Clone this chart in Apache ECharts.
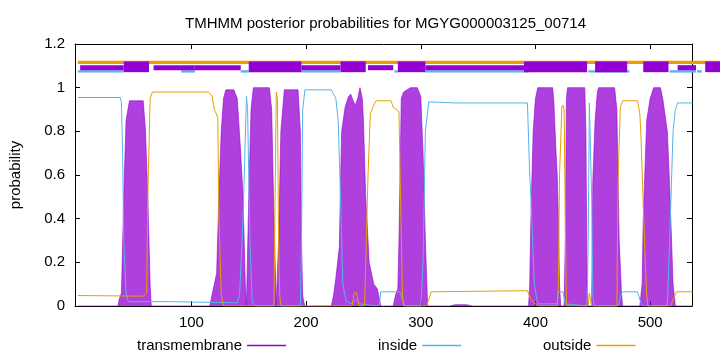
<!DOCTYPE html>
<html>
<head>
<meta charset="utf-8">
<script src="https://cdn.jsdelivr.net/npm/echarts@6/dist/echarts.min.js"></script>
<style>
  html, body { margin: 0; padding: 0; background: #fff; }
  #chart { width: 720px; height: 352px; }
</style>
</head>
<body>
<div id="chart"></div>
<script>
// posterior probabilities, [residue, probability]
const transmembrane = [
  [1, 0], [36, 0], [37, 0.03], [39, 0.06], [41, 0.5], [43, 0.85], [46, 0.94], [58, 0.94], [60, 0.8], [62, 0.5], [64, 0.1], [65, 0],
  [116, 0], [118, 0.05], [120, 0.1], [122, 0.15], [124, 0.5], [126, 0.8], [128, 0.95], [130, 0.99], [137, 0.99], [140, 0.95], [143, 0.7], [145, 0.5], [147, 0.1], [148, 0],
  [149, 0], [150, 0.5], [152, 0.9], [154, 1.0], [168, 1.0], [170, 0.9], [172, 0.4], [174, 0],
  [175, 0], [176, 0.3], [178, 0.8], [181, 0.99], [193, 0.99], [195, 0.8], [196, 0.3], [197, 0.05], [198, 0.02], [199, 0],
  [222, 0], [224, 0.05], [226, 0.13], [229, 0.27], [230, 0.55], [231, 0.8], [234, 0.91], [237, 0.96], [239, 0.97], [241, 0.94], [243, 0.92], [245, 0.95], [247, 1.0], [249, 0.95], [250, 0.85], [252, 0.5], [255, 0.2], [259, 0.1], [262, 0.08], [264, 0.03], [265, 0],
  [276, 0], [278, 0.05], [280, 0.08], [281, 0.3], [283, 0.95], [285, 0.98], [291, 1.0], [297, 1.0], [300, 0.96], [302, 0.7], [304, 0.3], [306, 0],
  [325, 0], [330, 0.006], [340, 0.006], [345, 0],
  [394, 0], [395, 0.1], [396, 0.4], [398, 0.8], [400, 0.95], [402, 1.0], [415, 1.0], [416, 0.94], [418, 0.7], [419, 0.6], [420, 0.4], [421, 0.1], [422, 0],
  [425, 0], [426, 0.3], [427, 0.95], [428, 1.0], [443, 1.0], [444, 0.8], [445, 0.1], [446, 0],
  [449, 0], [450, 0.57], [452, 0.85], [454, 0.98], [455, 1.0], [469, 1.0], [471, 0.9], [472, 0.6], [473, 0.3], [475, 0.06], [476, 0],
  [491, 0], [493, 0.1], [494, 0.4], [497, 0.85], [500, 0.95], [503, 1.0], [509, 1.0], [511, 0.95], [515, 0.8], [517, 0.55], [520, 0.1], [522, 0], [537, 0]
];

const inside = [
  [1, 0.955], [38, 0.955], [39, 0.93], [40, 0.7], [41, 0.3], [43, 0.06], [45, 0.02], [80, 0.02], [100, 0.018], [140, 0.015],
  [142, 0.05], [145, 0.4], [148, 0.96], [149, 0.9], [151, 0.3], [153, 0.02], [155, 0], [195, 0],
  [196, 0.3], [197, 0.9], [199, 0.99], [222, 0.99], [226, 0.95], [228, 0.85], [230, 0.5], [232, 0.1], [235, 0.02], [240, 0.01], [244, 0.03], [247, 0.01], [260, 0],
  [264, 0.005], [265, 0.065], [282, 0.065], [284, 0.03], [286, 0], [300, 0],
  [302, 0.2], [304, 0.8], [307, 0.935], [330, 0.93], [393, 0.93], [395, 0.6], [396, 0.5], [399, 0.1], [402, 0.01], [419, 0.01],
  [420, 0.065], [424, 0.065], [426, 0.01], [445, 0], [446, 0.3], [447, 0.93], [448, 0.93], [449, 0.5], [450, 0.05], [451, 0],
  [472, 0], [475, 0.06], [477, 0.065], [489, 0.065], [491, 0.03], [493, 0], [515, 0],
  [517, 0.3], [520, 0.8], [522, 0.9], [524, 0.93], [537, 0.93]
];

const outside = [
  [1, 0.048], [58, 0.045], [61, 0.06], [62, 0.5], [64, 0.95], [66, 0.98], [115, 0.98], [118, 0.96], [120, 0.9], [121, 0.89], [123, 0.86], [124, 0.4], [126, 0.05], [128, 0],
  [172, 0], [173, 0.5], [174, 0.98], [175, 0.95], [176, 0.3], [177, 0.05], [178, 0],
  [240, 0], [242, 0.06], [244, 0.06], [246, 0], [251, 0],
  [252, 0.2], [254, 0.6], [256, 0.88], [259, 0.92], [261, 0.94], [274, 0.94], [276, 0.91], [281, 0.89], [282, 0.6], [284, 0.05], [285, 0],
  [305, 0], [307, 0.03], [309, 0.065], [393, 0.07], [396, 0.03], [402, 0], [419, 0],
  [420, 0.1], [421, 0.6], [423, 0.91], [424, 0.92], [425, 0.9], [426, 0.4], [427, 0], [446, 0], [447, 0.06], [448, 0.06], [449, 0],
  [471, 0], [472, 0.57], [474, 0.91], [476, 0.94], [489, 0.94], [491, 0.88], [492, 0.78], [494, 0.46], [496, 0.17], [497, 0.05], [498, 0],
  [518, 0], [520, 0.03], [523, 0.065], [537, 0.065]
];

// predicted topology strip at the top, [start, end] residues
const topOutside = [[1, 561]];
const topInside = [[1, 41], [91, 103], [143, 150], [196, 230], [277, 280], [304, 394], [446, 482], [517, 540], [541, 545]];
const topTmWide = [[41, 63], [150, 196], [230, 252], [280, 304], [390, 445], [452, 480], [494, 516], [548, 561]];
const topTmNarrow = [[3, 41], [67, 103], [103, 143], [196, 230], [254, 276], [304, 390], [524, 540]];

const xTicks = [100, 200, 300, 400, 500];

const FONT = 'Liberation Sans, Arial, sans-serif';
const C_TM = '#9400D3';
const C_IN = '#56B4E9';
const C_OUT = '#E69F00';

function band(y0, y1, color) {
  return function (params, api) {
    const a = api.coord([api.value(0), y1]);
    const b = api.coord([api.value(1), y0]);
    return {
      type: 'rect',
      shape: { x: a[0], y: a[1], width: b[0] - a[0], height: b[1] - a[1] },
      style: { fill: color }
    };
  };
}

function legendItem(name, color) {
  return {
    name: name,
    icon: 'rect',
    itemStyle: { color: color, borderWidth: 0 },
    lineStyle: { width: 0 }
  };
}

const chart = echarts.init(document.getElementById('chart'), null, { renderer: 'canvas' });

const baseX = {
  type: 'value',
  min: -1.5,
  max: 536.5,
  splitLine: { show: false },
  axisLine: { onZero: false, lineStyle: { color: '#000', width: 1 } },
  axisTick: { inside: true, length: 5, customValues: xTicks, lineStyle: { color: '#000' } }
};
const baseY = {
  type: 'value',
  min: 0,
  max: 1.2,
  interval: 0.2,
  splitLine: { show: false },
  axisLine: { onZero: false, lineStyle: { color: '#000', width: 1 } },
  axisTick: { inside: true, length: 5, lineStyle: { color: '#000' } }
};

const legendBase = {
  orient: 'horizontal',
  top: 333,
  align: 'right',
  itemWidth: 39,
  itemHeight: 1.5,
  selectedMode: false,
  textStyle: { fontFamily: FONT, fontSize: 15, color: '#000' }
};

chart.setOption({
  animation: false,
  backgroundColor: '#fff',
  title: {
    text: 'TMHMM posterior probabilities for MGYG000003125_00714',
    left: 180,
    top: 11,
    textStyle: { fontFamily: FONT, fontSize: 15, fontWeight: 'normal', color: '#000' }
  },
  legend: [
    Object.assign({}, legendBase, { left: 132, data: [legendItem('transmembrane', C_TM)] }),
    Object.assign({}, legendBase, { left: 373, data: [legendItem('inside', C_IN)] }),
    Object.assign({}, legendBase, { left: 538, data: [legendItem('outside', C_OUT)] })
  ],
  grid: { left: 73, right: 28, top: 44, bottom: 46 },
  xAxis: [
    Object.assign({}, baseX, {
      position: 'bottom',
      axisLabel: { customValues: xTicks, fontFamily: FONT, fontSize: 15, color: '#000', margin: 9 }
    }),
    Object.assign({}, baseX, { position: 'top', axisLabel: { show: false } })
  ],
  yAxis: [
    Object.assign({}, baseY, {
      position: 'left',
      name: 'probability',
      nameLocation: 'middle',
      nameGap: 52,
      nameTextStyle: { fontFamily: FONT, fontSize: 15, color: '#000' },
      axisLabel: { fontFamily: FONT, fontSize: 15, color: '#000', margin: 10 }
    }),
    Object.assign({}, baseY, { position: 'right', axisLabel: { show: false } })
  ],
  series: [
    {
      name: 'transmembrane',
      type: 'line',
      color: C_TM,
      data: transmembrane,
      showSymbol: false,
      itemStyle: { color: C_TM },
      lineStyle: { color: C_TM, width: 1, opacity: 0.6 },
      areaStyle: { color: C_TM, opacity: 0.75 },
      z: 2
    },
    {
      name: 'inside',
      type: 'line',
      color: C_IN,
      data: inside,
      showSymbol: false,
      itemStyle: { color: C_IN },
      lineStyle: { color: C_IN, width: 1 },
      z: 3
    },
    {
      name: 'outside',
      type: 'line',
      color: C_OUT,
      data: outside,
      showSymbol: false,
      itemStyle: { color: C_OUT },
      lineStyle: { color: C_OUT, width: 1 },
      z: 4
    },
    {
      type: 'custom',
      data: topInside,
      encode: { x: [0, 1] },
      clip: false,
      renderItem: band(1.069, 1.080, C_IN),
      z: 5
    },
    {
      type: 'custom',
      data: topOutside,
      encode: { x: [0, 1] },
      clip: false,
      renderItem: band(1.108, 1.123, C_OUT),
      z: 6
    },
    {
      type: 'custom',
      data: topTmNarrow,
      encode: { x: [0, 1] },
      clip: false,
      renderItem: band(1.080, 1.103, C_TM),
      z: 7
    },
    {
      type: 'custom',
      data: topTmWide,
      encode: { x: [0, 1] },
      clip: false,
      renderItem: band(1.071, 1.120, C_TM),
      z: 8
    }
  ]
});
</script>
</body>
</html>
